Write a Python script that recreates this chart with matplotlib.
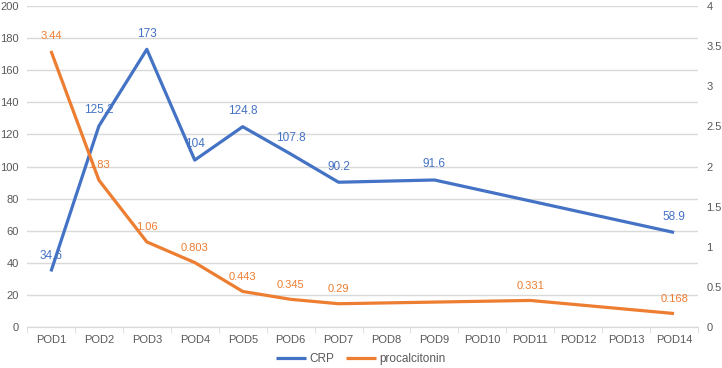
import numpy as np
import matplotlib as mpl
mpl.use('Agg')
import matplotlib.pyplot as plt

days = ['POD%d' % i for i in range(1, 15)]
crp = [34.6, 125.2, 173, 104, 124.8, 107.8, 90.2, None, 91.6, None, None, None, None, 58.9]
pct = [3.44, 1.83, 1.06, 0.803, 0.443, 0.345, 0.29, None, None, None, 0.331, None, None, 0.168]

blue = '#4472C4'
orange = '#ED7D31'
grey = '#595959'

plt.rcParams['font.family'] = ['Liberation Sans', 'DejaVu Sans']

fig = plt.figure(figsize=(7.22, 3.68), dpi=100)
ax = fig.add_axes([0.0374, 0.1114, 0.9294, 0.8723])
ax2 = ax.twinx()

x = np.arange(len(days))


def valid(vals):
    idx = [i for i, v in enumerate(vals) if v is not None]
    return np.array(idx), np.array([vals[i] for i in idx])


cx, cy = valid(crp)
px, py = valid(pct)

l1, = ax.plot(cx, cy, color=blue, lw=2.3, label='CRP', solid_capstyle='butt', zorder=3)
l2, = ax2.plot(px, py, color=orange, lw=2.3, label='procalcitonin', solid_capstyle='butt', zorder=3)

for xi, v in zip(cx, cy):
    ax.annotate('%g' % v, (xi, v), xytext=(0, 7), textcoords='offset points',
                ha='center', va='bottom', color=blue, fontsize=8.5)
for xi, v in zip(px, py):
    ax2.annotate('%g' % v, (xi, v), xytext=(0, 7), textcoords='offset points',
                 ha='center', va='bottom', color=orange, fontsize=8)

ax.set_xlim(-0.5, len(days) - 0.5)
ax.set_ylim(0, 200)
ax.set_yticks(np.arange(0, 201, 20))
ax2.set_ylim(0, 4)
ax2.set_yticks(np.arange(0, 4.01, 0.5))
ax2.set_yticklabels(['%g' % t for t in np.arange(0, 4.01, 0.5)])

ax.grid(axis='y', color='#d9d9d9', lw=1)
ax.set_axisbelow(True)
for a in (ax, ax2):
    for s in ('top', 'left', 'right'):
        a.spines[s].set_visible(False)
    a.spines['bottom'].set_color('#d9d9d9')
    a.tick_params(axis='y', length=0, labelsize=8, labelcolor=grey, pad=6)

ax.set_xticks(x)
ax.set_xticklabels(days)
ax.set_xticks(np.arange(-0.5, len(days), 1), minor=True)
ax.tick_params(axis='x', which='major', length=0, labelsize=8, labelcolor=grey, pad=6)
ax.tick_params(axis='x', which='minor', length=4, color='#d9d9d9')

fig.legend(handles=[l1, l2], loc='lower center', bbox_to_anchor=(0.5, -0.02), ncol=2,
           frameon=False, fontsize=8.5, labelcolor=grey, handlelength=2.5, columnspacing=1.0,
           handletextpad=0.3)

fig.savefig('out.png', dpi=100)
